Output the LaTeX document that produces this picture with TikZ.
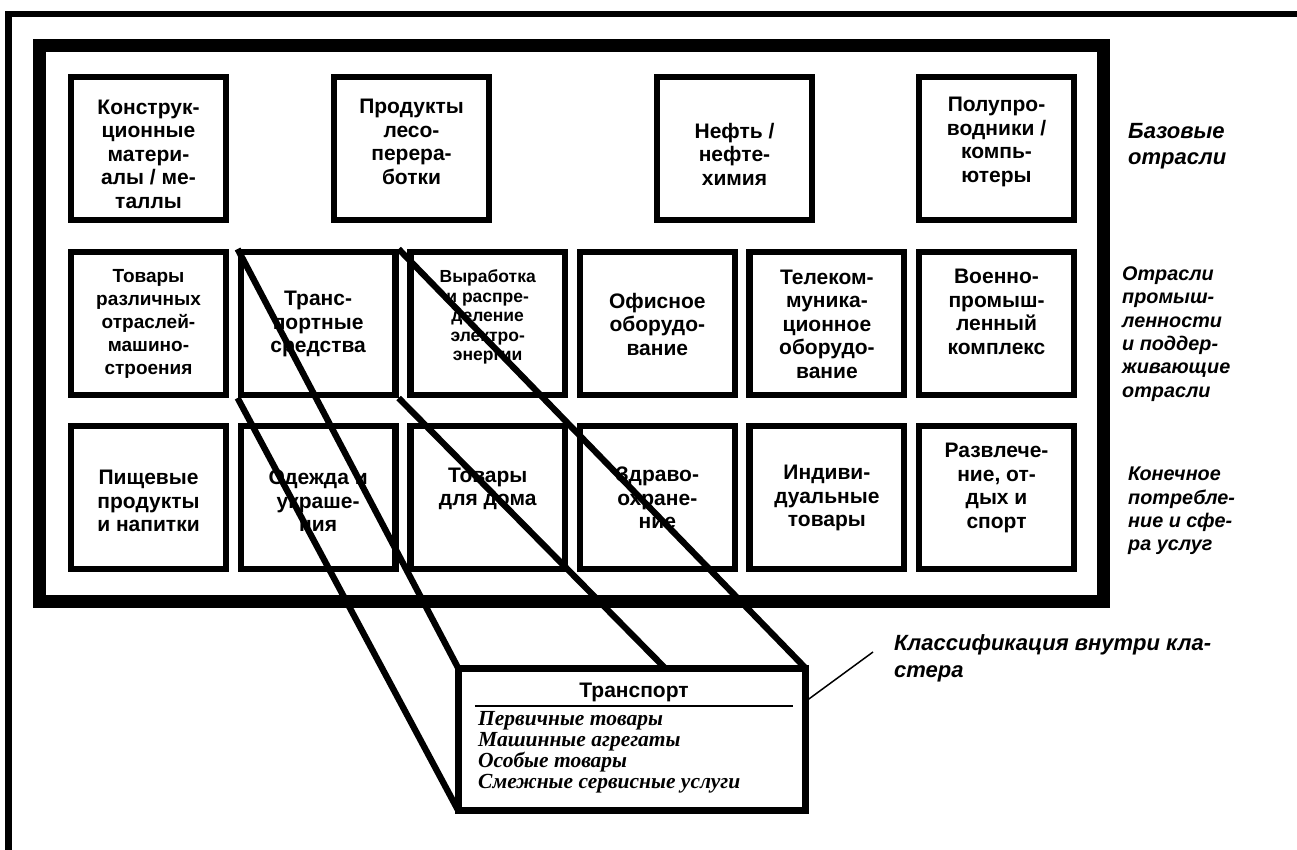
\documentclass[tikz,border=0pt]{standalone}
\usepackage{fontspec}
\setmainfont{Liberation Sans}
\newfontfamily\lblfont{Liberation Sans}
\newfontfamily\listfont{Liberation Serif}
\begin{document}
\begin{tikzpicture}[x=1pt,y=-1pt,
  cell/.style={draw, line width=6.3pt, minimum width=154.7pt, minimum height=142.7pt, inner sep=0pt},
  celltext/.style={align=center, font=\bfseries\fontsize{21}{23.5}\selectfont, inner sep=0pt},
  cellsmall/.style={align=center, font=\bfseries\fontsize{17.5}{19.5}\selectfont, inner sep=0pt},
  cellmid/.style={align=center, font=\bfseries\fontsize{19}{23}\selectfont, inner sep=0pt},
  lbl/.style={align=left, anchor=west, font=\lblfont\bfseries\itshape\fontsize{19.8}{23.3}\selectfont, inner sep=0pt},
  proj/.style={line width=6.3pt},
  detail/.style={minimum width=347pt, minimum height=142pt, inner sep=0pt},
  listline/.style={anchor=base west, font=\listfont\bfseries\itshape\fontsize{21.5}{21}\selectfont, inner sep=0pt},
]
\useasboundingbox (0,0) rectangle (1297,850);
% outer frame
\draw[line width=6.5pt] (8.5,850) -- (8.5,14) -- (1297,14);
% cluster frame
\draw[line width=13pt] (39.5,45.5) rectangle (1103.5,601);

% top row
\node[cell] (a1) at (148.5,148.5) {};
\node[cell] (a2) at (411.5,148.5) {};
\node[cell] (a3) at (734.5,148.5) {};
\node[cell] (a4) at (996.5,148.5) {};
\node[celltext] (a1t) at (148.5,154) {Конструк-\\ционные\\матери-\\алы / ме-\\таллы};
\node[celltext] (a2t) at (411.5,142) {Продукты\\лесо-\\перера-\\ботки};
\node[celltext] (a3t) at (734.5,154) {Нефть /\\нефте-\\химия};
\node[celltext] (a4t) at (996.5,142) {Полупро-\\водники /\\компь-\\ютеры};

% middle row
\node[cell] (m1) at (148.5,323.5) {};
\node[cell] (m2) at (318.1,323.5) {};
\node[cell] (m3) at (487.7,323.5) {};
\node[cell] (m4) at (657.3,323.5) {};
\node[cell] (m5) at (826.9,323.5) {};
\node[cell] (m6) at (996.5,323.5) {};
\node[cellmid] (m1t) at (148.5,324) {Товары\\различных\\отраслей-\\машино-\\строения};
\node[celltext] (m2t) at (318.1,324) {Транс-\\портные\\средства};
\node[cellsmall] (m3t) at (487.7,317) {Выработка\\и распре-\\деление\\электро-\\энергии};
\node[celltext] (m4t) at (657.3,324) {Офисное\\оборудо-\\вание};
\node[celltext] (m5t) at (826.9,324) {Телеком-\\муника-\\ционное\\оборудо-\\вание};
\node[celltext] (m6t) at (996.5,312) {Военно-\\промыш-\\ленный\\комплекс};

% bottom row
\node[cell] (b1) at (148.5,497.5) {};
\node[cell] (b2) at (318.1,497.5) {};
\node[cell] (b3) at (487.7,497.5) {};
\node[cell] (b4) at (657.3,497.5) {};
\node[cell] (b5) at (826.9,497.5) {};
\node[cell] (b6) at (996.5,497.5) {};
\node[celltext] (b1t) at (148.5,501) {Пищевые\\продукты\\и напитки};
\node[celltext] (b2t) at (318.1,501) {Одежда и\\украше-\\ния};
\node[celltext] (b3t) at (487.7,489) {Товары\\для дома};
\node[celltext] (b4t) at (657.3,498) {Здраво-\\охране-\\ние};
\node[celltext] (b5t) at (826.9,498) {Индиви-\\дуальные\\товары};
\node[celltext] (b6t) at (996.5,488) {Развлече-\\ние, от-\\дых и\\спорт};

% row labels
\node[lbl, font=\lblfont\bfseries\itshape\fontsize{22}{26}\selectfont] (la) at (1128,146) {Базовые\\отрасли};
\node[lbl] (lm) at (1122,334) {Отрасли\\промыш-\\ленности\\и поддер-\\живающие\\отрасли};
\node[lbl] (lb) at (1128,511) {Конечное\\потребле-\\ние и сфе-\\ра услуг};

% detail box (position), projection lines, then the box itself on top
\node[detail] (T) at (632,739.5) {};
\draw[proj] (m2.north west) -- (T.north west);
\draw[proj] (m2.north east) -- (T.north east);
\draw[proj] (m2.south west) -- (T.south west);
\draw[proj] (m2.south east) -- (T.south east);
% callout
\coordinate (cl) at (873,652);
\draw[line width=1.5pt] ([yshift=-33pt]T.north east) -- (cl);
\node[detail, draw, fill=white, line width=7pt] (Tbox) at (T.center) {};
\node[font=\bfseries\fontsize{21}{22}\selectfont, inner sep=0pt] (Tt) at (634,692) {Транспорт};
\draw[line width=2pt] ([xshift=16.5pt,yshift=-38pt]T.north west) coordinate (ul1) -- ([xshift=-12.5pt,yshift=-38pt]T.north east) coordinate (ul2);
\node[listline] (l1) at (478,725) {Первичные товары};
\node[listline] (l2) at (478,746) {Машинные агрегаты};
\node[listline] (l3) at (478,767) {Особые товары};
\node[listline] (l4) at (478,788) {Смежные сервисные услуги};

\node[lbl, font=\lblfont\bfseries\itshape\fontsize{22}{27}\selectfont] (lc) at (894,658.5) {Классификация внутри кла-\\стера};
\end{tikzpicture}
\end{document}
